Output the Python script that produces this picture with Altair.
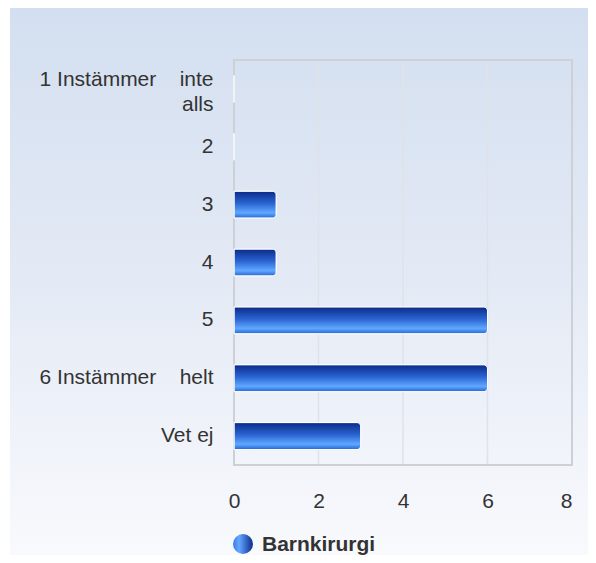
import json
import altair as alt
import pandas as pd

# ---- data ----
categories = ["1 Instämmer inte alls", "2", "3", "4", "5", "6 Instämmer helt", "Vet ej"]
values = [0, 0, 1, 1, 6, 6, 3]
x_ticks = [0, 2, 4, 6, 8]
grid_values = [2, 4, 6]
series_name = "Barnkirurgi"

NBSP = "\u00a0"
label_lines = {
    "1 Instämmer inte alls": ["1 Instämmer" + NBSP * 4 + "inte", "alls"],
    "6 Instämmer helt": "6 Instämmer" + NBSP * 4 + "helt",
}

df = pd.DataFrame({"kategori": categories, "antal": values})
grid_df = pd.DataFrame({"g": grid_values})
legend_df = pd.DataFrame({"serie": [series_name]})
one_df = pd.DataFrame({"a": [0]})

W, H = 338, 405
FONT = "Liberation Sans"
TXT = "#333333"

expr = "datum.value"
for k, v in label_lines.items():
    expr = f"datum.value === {json.dumps(k, ensure_ascii=False)} ? {json.dumps(v, ensure_ascii=False)} : ({expr})"

bg_grad = alt.LinearGradient(
    gradient="linear", x1=0, x2=0, y1=0, y2=1,
    stops=[alt.GradientStop(offset=0, color="#d3dff0"),
           alt.GradientStop(offset=0.5, color="#e4eaf5"),
           alt.GradientStop(offset=1, color="#f9fafd")],
)
bar_grad = alt.LinearGradient(
    gradient="linear", x1=0, x2=0, y1=0, y2=1,
    stops=[alt.GradientStop(offset=0, color="#0a2a87"),
           alt.GradientStop(offset=0.45, color="#2a64d2"),
           alt.GradientStop(offset=0.8, color="#60a8ff"),
           alt.GradientStop(offset=1, color="#2466d4")],
)
dot_grad = alt.LinearGradient(
    gradient="linear", x1=0, x2=1, y1=0, y2=0,
    stops=[alt.GradientStop(offset=0, color="#3a7be6"),
           alt.GradientStop(offset=0.3, color="#64a8ff"),
           alt.GradientStop(offset=1, color="#0b2c8c")],
)

xscale = alt.Scale(domain=[0, 8], nice=False)
yscale = alt.Scale(domain=categories, paddingInner=0.53, paddingOuter=0.265)

bg = alt.Chart(one_df).mark_rect(fill=bg_grad).encode(
    x=alt.value(-224), x2=alt.value(362), y=alt.value(-52), y2=alt.value(503)
)

grid = alt.Chart(grid_df).mark_rule(color="#dfe2e9", strokeWidth=1.5).encode(
    x=alt.X("g:Q", scale=xscale), y=alt.value(0), y2=alt.value(H)
)

frame = alt.Chart(one_df).mark_rect(filled=False, stroke="#cdd0d5", strokeWidth=2).encode(
    x=alt.datum(0, scale=xscale), x2=alt.datum(8), y=alt.value(0), y2=alt.value(H)
)

first_cat = json.dumps(categories[0], ensure_ascii=False)
last_tick = x_ticks[-1]

bars = alt.Chart(df).mark_bar(
    fill=bar_grad, stroke="white", strokeWidth=1, cornerRadiusEnd=4, size=27
).encode(
    x=alt.X("antal:Q", scale=xscale,
            axis=alt.Axis(values=x_ticks, title=None, grid=False, ticks=False, tickSize=0,
                          domain=False, labelFont=FONT, labelFontSize=21, labelColor=TXT,
                          labelPadding=25, labelFlush=False, zindex=1,
                          labelAlign={"condition": {"test": f"datum.value === {last_tick}", "value": "right"},
                                      "value": "center"})),
    y=alt.Y("kategori:N", sort=categories, scale=yscale,
            axis=alt.Axis(title=None, ticks=False, tickSize=0, domain=False, grid=False,
                          labelFont=FONT, labelFontSize=21, labelColor=TXT,
                          labelPadding=21, labelLineHeight=25, labelExpr=expr,
                          labelLimit=300, zindex=1,
                          labelOffset={"condition": {"test": f"datum.value === {first_cat}", "value": -9},
                                       "value": 0})),
)

dot = alt.Chart(legend_df).mark_circle(fill=dot_grad, size=400, opacity=1).encode(
    x=alt.value(9), y=alt.value(484)
)
legend_text = alt.Chart(legend_df).mark_text(
    align="left", baseline="middle", font=FONT, fontSize=21, fontWeight="bold", color=TXT
).encode(x=alt.value(28), y=alt.value(484.5), text="serie:N")

chart = alt.layer(bg, grid, frame, bars, dot, legend_text).properties(
    width=W, height=H,
    autosize=alt.AutoSizeParams(type="none"),
    padding={"left": 226, "top": 52, "right": 16, "bottom": 90},
    background="white",
).configure_view(stroke=None)

chart.save("out.html", embed_options={"renderer": "svg", "actions": False})
